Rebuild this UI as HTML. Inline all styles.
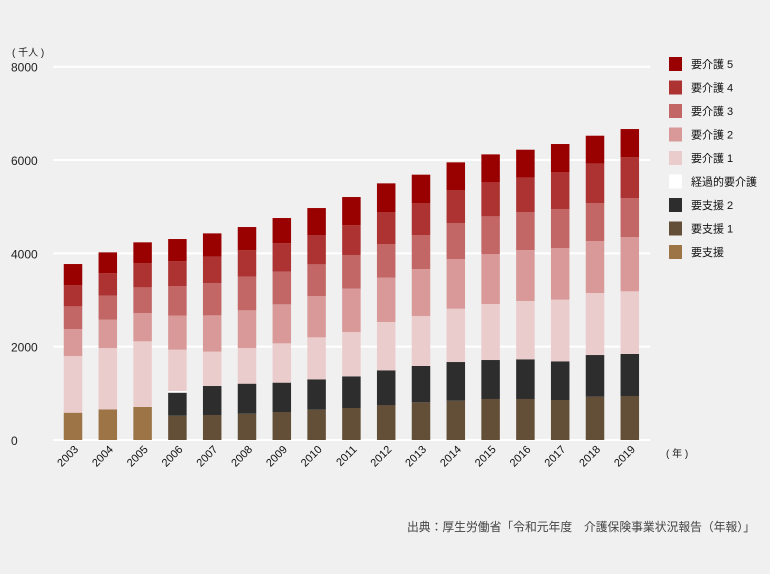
<!DOCTYPE html>
<html><head><meta charset="utf-8"><style>
html,body{margin:0;padding:0;background:#f0f0f0;}
svg{display:block;font-family:"Liberation Sans","Noto Sans CJK JP",sans-serif;}
</style></head><body>
<svg id="chart" width="770" height="574">
<rect x="0" y="0" width="770" height="574" rx="8" fill="#f0f0f0"/>
<g id="grid"></g><g id="bars"></g><g id="axis"></g><g id="legend"></g>
<text x="12" y="56" font-size="10" fill="#222">( 千人 )</text>
<text x="666" y="457" font-size="10" fill="#222">( 年 )</text>
<text x="755" y="531" font-size="11.8" fill="#444" text-anchor="end">出典：厚生労働省「令和元年度　介護保険事業状況報告（年報）」</text>
</svg>
<script>
const years=["2003","2004","2005","2006","2007","2008","2009","2010","2011","2012","2013","2014","2015","2016","2017","2018","2019"];
const yoshien=[585,657,707,0,0,0,0,0,0,0,0,0,0,0,0,0,0];
const shien1=[0,0,0,521,536,564,600,650,686,750,807,843,879,879,857,929,943];
const shien2=[0,0,0,493,621,643,629,650,678,743,779,828,835,850,829,892,900];
const keika=[0,0,0,36,0,0,0,0,0,0,0,0,0,0,0,0,0];
const kaigo1=[1215,1314,1407,885,736,764,842,900,950,1036,1071,1143,1200,1250,1321,1329,1343];
const kaigo2=[578,607,607,729,778,808,836,886,929,950,1007,1065,1072,1092,1107,1114,1164];
const kaigo3=[486,514,550,636,693,721,700,678,721,721,729,771,807,815,836,815,836];
const kaigo4=[457,486,515,535,564,571,614,629,643,686,686,700,736,735,793,842,878];
const kaigo5=[450,443,450,472,500,493,536,578,600,614,607,600,592,600,600,600,600];
const yTicks=[0,2000,4000,6000,8000];
const seriesNames=["要支援","要支援 1","要支援 2","経過的要介護","要介護 1","要介護 2","要介護 3","要介護 4","要介護 5"];
const seriesData=[yoshien,shien1,shien2,keika,kaigo1,kaigo2,kaigo3,kaigo4,kaigo5];
const colors=["#9c7445","#634f38","#2d2d2d","#ffffff","#ebcccc","#d99999","#c26666","#ad3333","#990000"];
const NS="http://www.w3.org/2000/svg";
const y0=440,yScale=373.3/8000;
const y=v=>y0-v*yScale;
const x=i=>73+i*34.8;
const bw=18.5;
function mk(t,a,p){const e=document.createElementNS(NS,t);for(const k in a)e.setAttribute(k,a[k]);p.appendChild(e);return e;}
const grid=document.getElementById('grid'),axis=document.getElementById('axis'),bars=document.getElementById('bars'),legend=document.getElementById('legend');
yTicks.forEach(t=>{
 const l=mk('line',{x1:53,x2:650,y1:y(t),y2:y(t),stroke:'#ffffff','stroke-width':2},grid);
 
 
 const tx=mk('text',{x:11,y:y(t)+5,'font-size':12,fill:'#222'},axis);
 tx.textContent=t;
 
 
});
years.forEach((yr,i)=>{
 let cum=0;
 seriesData.forEach((s,j)=>{
  const v=s[i];if(!v)return;
  const r=mk('rect',{x:x(i)-bw/2,y:y(cum+v),width:bw,height:v*yScale,fill:colors[j]},bars);
  
  
  cum+=v;
 });
 const tx=mk('text',{x:x(i)+6,y:450,'font-size':11,fill:'#111','text-anchor':'end',transform:`rotate(-45 ${x(i)+6} 450)`},axis);
 tx.textContent=yr;
 
 
});
for(let k=0;k<9;k++){
 const j=8-k,cy=64+k*23.5;
 const r=mk('rect',{x:669,y:cy-7,width:13,height:14,fill:colors[j]},legend);
 
 
 const t=mk('text',{x:691,y:cy+4,'font-size':11,fill:'#111'},legend);
 t.textContent=seriesNames[j];
 
 
}
</script>
</body></html>
